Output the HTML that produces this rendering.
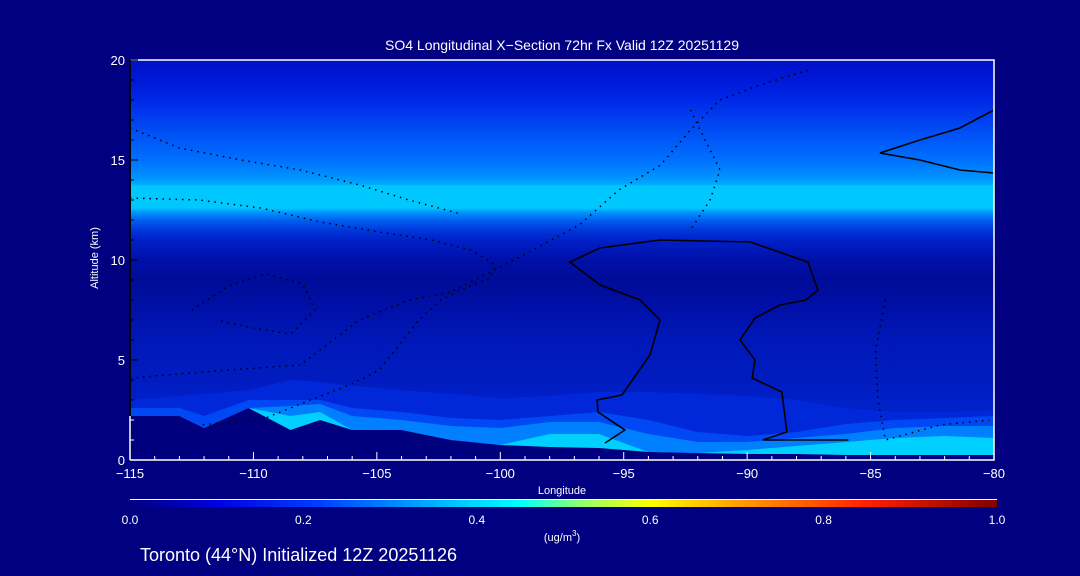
<!DOCTYPE html>
<html><head><meta charset="utf-8">
<style>
html,body{margin:0;padding:0;background:#000080;width:1080px;height:576px;overflow:hidden}
svg{display:block}
text{font-family:"Liberation Sans","DejaVu Sans",sans-serif;fill:#fff}
</style></head>
<body>
<svg id="chart" width="1080" height="576" viewBox="0 0 1080 576">
<defs>
<linearGradient id="bg" x1="0" y1="0" x2="0" y2="1" gradientUnits="objectBoundingBox"></linearGradient>
<linearGradient id="cbar" x1="0" y1="0" x2="1" y2="0">
<stop offset="0" stop-color="#000080"/><stop offset="0.1" stop-color="#0000e0"/>
<stop offset="0.22" stop-color="#0040ff"/><stop offset="0.36" stop-color="#00b8ff"/>
<stop offset="0.45" stop-color="#00ffff"/><stop offset="0.52" stop-color="#90ff70"/>
<stop offset="0.6" stop-color="#ffff00"/><stop offset="0.7" stop-color="#ffa000"/>
<stop offset="0.85" stop-color="#ff2000"/><stop offset="1" stop-color="#800000"/>
</linearGradient>
</defs>
<text x="562" y="50" text-anchor="middle" font-size="14">SO4 Longitudinal X−Section 72hr  Fx Valid 12Z 20251129</text>
<g id="plot"></g>
<text x="98" y="258" font-size="11" text-anchor="middle" transform="rotate(-90 98 258)">Altitude (km)</text>
<text x="562" y="494" font-size="11" text-anchor="middle">Longitude</text>
<line x1="130" y1="499.5" x2="997" y2="499.5" stroke="#fff" stroke-width="1"/>
<rect x="130" y="500" width="867" height="7" fill="url(#cbar)"/>
<g id="cbl"></g>
<text x="562" y="541" font-size="11" text-anchor="middle">(ug/m<tspan font-size="8" dy="-5">3</tspan><tspan dy="5">)</tspan></text>
<text x="140" y="561" font-size="18">Toronto (44°N) Initialized 12Z 20251126</text>
</svg>
<script>
const xTicks=[-115,-110,-105,-100,-95,-90,-85,-80];
const yTicks=[0,5,10,15,20];
const cbTicks=[0.0,0.2,0.4,0.6,0.8,1.0];
const bgAlt=[20,19,18,17,16,15,14.2,13.8,13.7,12.6,12.4,12,11.5,11,10,9,7.5,6,4,3];
const bgCol=["#0010c8","#0018d8","#0028e8","#0040f0","#0058f8","#0070ff","#0090ff","#00a8ff","#00c8ff","#00c8ff","#0098ff","#0060f0","#0038dc","#0020c8","#0010a8","#000c98","#0010a8","#0018b8","#001cc0","#0020c8"];
const lons=[-115,-113,-112,-110.2,-108.5,-107.3,-106,-104,-102,-100,-98,-96,-94,-92,-90,-88,-86,-84,-82,-80];
const terrain=[2.2,2.2,1.6,2.6,1.5,2.0,1.5,1.5,1.0,0.75,0.65,0.6,0.4,0.35,0.3,0.3,0.25,0.25,0.25,0.25];
const layer1=[3.0,3.2,3.3,3.5,4.0,3.9,3.7,3.5,3.3,3.1,3.2,3.4,3.4,3.3,3.2,3.0,2.6,2.4,2.4,2.5];
const layer2=[2.6,2.6,2.2,3.0,3.0,3.0,2.6,2.4,2.1,2.0,2.2,2.4,2.0,1.4,1.2,1.4,1.8,2.0,2.1,2.2];
const layer3=[0,0,0,0,2.7,2.8,2.2,2.0,1.7,1.6,1.9,1.9,1.3,0.9,0.9,1.1,1.3,1.6,1.7,1.7];
const layer4=[0,0,0,0,2.2,2.4,0,0,0,0,1.3,1.3,0,0,0.5,0.7,0.9,1.1,1.2,1.1];
const solidA=[[-95.76,0.85],[-94.95,1.5],[-96.04,2.4],[-96.08,3.0],[-95.07,3.25],[-93.94,5.25],[-93.53,7.0],[-94.34,8.0],[-95.96,8.75],[-97.18,9.9],[-95.96,10.6],[-93.53,11.0],[-89.88,10.9],[-87.54,9.9],[-87.13,8.5],[-87.62,8.0],[-88.67,7.75],[-89.68,7.1],[-90.29,6.0],[-89.68,5.0],[-89.8,4.1],[-88.59,3.4],[-88.39,1.4],[-89.36,1.0],[-85.9,1.0]];
const solidB=[[-80,17.5],[-81.38,16.6],[-83.0,16.0],[-84.62,15.35],[-83.0,15.0],[-81.38,14.5],[-80,14.35]];
const dot1=[[-115,16.6],[-113,15.6],[-110.5,15],[-108.1,14.5],[-105.7,13.75],[-103.7,13],[-101.6,12.3]];
const dot2=[[-115,13.1],[-112.2,13],[-109.7,12.6],[-107.3,11.9],[-104.9,11.4],[-102.8,11],[-101.2,10.5],[-100.2,9.75],[-100.4,9.1],[-101.6,8.5],[-102.4,8],[-103.3,7],[-104.1,5.75],[-104.9,4.5],[-106.1,3.75],[-107.7,3],[-109.7,2],[-112.2,1.75]];
const dot3=[[-115,4.1],[-111,4.5],[-108.1,4.75],[-105.7,7],[-103.7,8],[-102,8.4],[-99.6,9.9],[-96.8,11.75],[-95.2,13.5],[-93.5,14.75],[-92.3,16.5],[-91.1,18],[-89.5,18.75],[-87.5,19.5]];
const dot4=[[-92.3,17.5],[-91.1,14.5],[-91.5,13],[-92.3,11.5]];
const dot5=[[-84.4,8],[-84.8,5.5],[-84.7,3],[-84.4,1],[-82.2,1.75],[-80.2,2]];
const dot6=[[-112.5,7.5],[-111,8.7],[-109.5,9.3],[-108,8.8],[-107.5,7.5],[-108.5,6.3],[-110,6.6],[-111.5,7]];

const X0=130,X1=994,Y0=460,Y1=60;
const sx=v=>X0+(v+115)/35*(X1-X0);
const sy=v=>Y0-v/20*(Y0-Y1);
const NS="http://www.w3.org/2000/svg";
const plot=document.getElementById('plot');
function mk(tag,attrs,parent){const e=document.createElementNS(NS,tag);for(const k in attrs)e.setAttribute(k,attrs[k]);(parent||plot).appendChild(e);return e;}

const g=document.getElementById('bg');
for(let i=0;i<bgAlt.length;i++){const s=document.createElementNS(NS,'stop');s.setAttribute('offset',((20-bgAlt[i])/20).toFixed(3));s.setAttribute('stop-color',bgCol[i]);g.appendChild(s);}
const bgr=mk('rect',{x:X0,y:Y1,width:X1-X0,height:Y0-Y1,fill:'url(#bg)'});



function layerPath(arr,floor){
  let d='';
  for(let i=0;i<lons.length;i++)d+=(i?' L':'M')+sx(lons[i]).toFixed(1)+','+sy(Math.max(arr[i],floor?floor[i]:0)).toFixed(1);
  d+=' L'+X1+','+Y0+' L'+X0+','+Y0+' Z';return d;
}
const l1=mk('path',{d:layerPath(layer1),fill:'#0028d8'});


const l2=mk('path',{d:layerPath(layer2),fill:'#0048f4'});


const l3=mk('path',{d:layerPath(layer3,terrain),fill:'#0080ff'});


const l4=mk('path',{d:layerPath(layer4,terrain),fill:'#00d0ff'});


const ter=mk('path',{d:layerPath(terrain),fill:'#00007f'});



function line(pts,dash,name){
  const d=pts.map((p,i)=>(i?'L':'M')+sx(p[0]).toFixed(1)+','+sy(p[1]).toFixed(1)).join(' ');
  const e=mk('path',{d:d,fill:'none',stroke:'#000',"stroke-width":dash?1.5:1.6});
  if(dash)e.setAttribute('stroke-dasharray','1.5 5');
  
  
}
line(solidA,false,'contour-zero-central');
line(solidB,false,'contour-zero-upper-right');
[dot1,dot2,dot3,dot4,dot5,dot6].forEach((p,i)=>line(p,true,'contour-dotted-'+(i+1)));

const fr=mk('path',{d:`M${X0},${Y1} L${X1},${Y1} L${X1},${Y0} L${X0},${Y0}`,fill:'none',stroke:'#fff','stroke-width':1.5});


const la=mk('line',{x1:X0,y1:Y1,x2:X0,y2:sy(2.2),stroke:'#000','stroke-width':2});


mk('line',{x1:X0,y1:sy(2.2),x2:X0,y2:Y0,stroke:'#fff','stroke-width':1.5});

for(let v=-115;v<=-80;v++){
  const major=v%5===0;
  mk('line',{x1:sx(v),y1:Y0,x2:sx(v),y2:Y0-(major?8:4),stroke:'#fff','stroke-width':1});
}
xTicks.forEach(v=>{
  const t=mk('text',{x:sx(v),y:Y0+18,'font-size':13,'text-anchor':'middle'});
  t.textContent=(v<0?'−':'')+Math.abs(v);
  
  
});
for(let v=0;v<=20;v++){
  const major=v%5===0;
  mk('line',{x1:X0,y1:sy(v),x2:X0+(major?8:4),y2:sy(v),stroke:v<2.2?'#fff':'#000','stroke-width':1});
}
yTicks.forEach(v=>{
  const t=mk('text',{x:X0-5,y:sy(v)+5,'font-size':13,'text-anchor':'end'});
  t.textContent=v;
  
  
});
const cbl=document.getElementById('cbl');
cbTicks.forEach(v=>{
  const t=mk('text',{x:130+v*867,y:524,'font-size':12,'text-anchor':'middle'},cbl);
  t.textContent=v.toFixed(1);
  
  
});
</script>
</body></html>
